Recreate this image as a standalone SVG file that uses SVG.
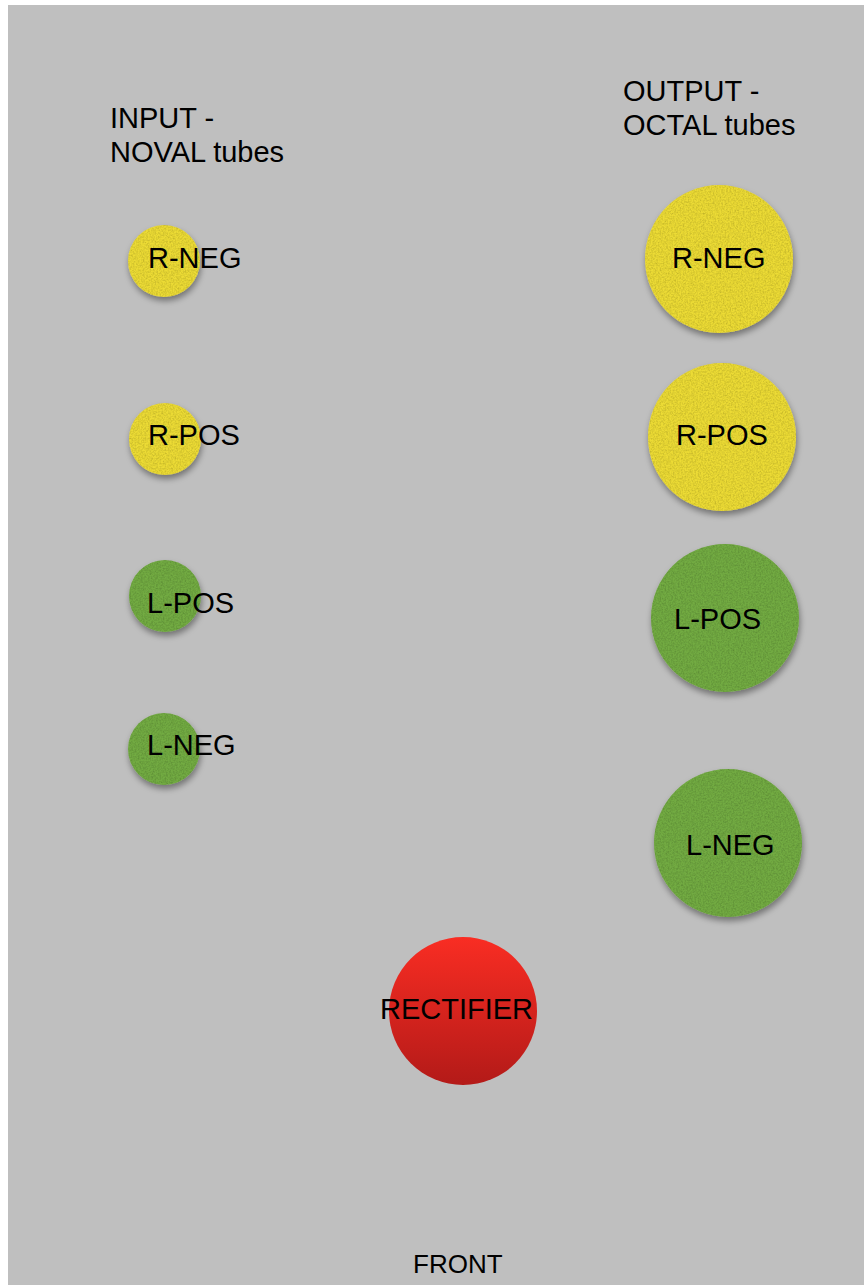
<svg xmlns="http://www.w3.org/2000/svg" width="864" height="1285" viewBox="0 0 864 1285">
<defs>
<style>
text{font-family:"Liberation Sans",Arial,Helvetica,sans-serif;font-size:29px;fill:#000}
.yel{fill:#ecdb34}
.grn{fill:#72ab42}
.small{font-size:26px}
</style>
<filter id="tex" x="-25%" y="-25%" width="150%" height="160%">
<feTurbulence type="fractalNoise" baseFrequency="0.6" numOctaves="3" seed="4" result="n"/>
<feColorMatrix in="n" type="matrix" values="0 0 0 0 0  0 0 0 0 0  0 0 0 0 0  0.6 0 0 0 -0.2" result="dark"/>
<feComposite in="dark" in2="SourceAlpha" operator="in" result="darkIn"/>
<feComposite in="darkIn" in2="SourceGraphic" operator="over" result="textured"/>
<feGaussianBlur in="SourceAlpha" stdDeviation="3"/>
<feOffset dx="1" dy="4" result="sb"/>
<feFlood flood-color="#000" flood-opacity="0.4"/>
<feComposite in2="sb" operator="in" result="shadow"/>
<feMerge><feMergeNode in="shadow"/><feMergeNode in="textured"/></feMerge>
</filter>
<linearGradient id="red" x1="0" y1="0" x2="0" y2="1">
<stop offset="0" stop-color="#f92d23"/>
<stop offset="1" stop-color="#b31a18"/>
</linearGradient>
</defs>
<rect x="0" y="0" width="864" height="1285" fill="#ffffff"/>
<rect x="8" y="5" width="856" height="1280" fill="#bfbfbf"/>
<g id="labels">
<text x="110" y="128">INPUT -</text>
<text x="110" y="162">NOVAL tubes</text>
<text x="623" y="101">OUTPUT -</text>
<text x="623" y="135">OCTAL tubes</text>
<text x="413" y="1273" class="small">FRONT</text>
</g>
<g id="connectors"/>
<g id="in-r-neg"><circle cx="164" cy="261" r="36" class="yel" filter="url(#tex)"/><text x="148" y="268">R-NEG</text></g>
<g id="in-r-pos"><circle cx="165" cy="439" r="36" class="yel" filter="url(#tex)"/><text x="148" y="445">R-POS</text></g>
<g id="in-l-pos"><circle cx="165" cy="596" r="36" class="grn" filter="url(#tex)"/><text x="147" y="613">L-POS</text></g>
<g id="in-l-neg"><circle cx="164" cy="749" r="36" class="grn" filter="url(#tex)"/><text x="147" y="755">L-NEG</text></g>
<g id="out-r-neg"><circle cx="719" cy="259" r="74" class="yel" filter="url(#tex)"/><text x="672" y="268">R-NEG</text></g>
<g id="out-r-pos"><circle cx="722" cy="437" r="74" class="yel" filter="url(#tex)"/><text x="676" y="445">R-POS</text></g>
<g id="out-l-pos"><circle cx="725" cy="618" r="74" class="grn" filter="url(#tex)"/><text x="674" y="629">L-POS</text></g>
<g id="out-l-neg"><circle cx="728" cy="843" r="74" class="grn" filter="url(#tex)"/><text x="686" y="855">L-NEG</text></g>
<g id="rectifier"><circle cx="463" cy="1011" r="74" fill="url(#red)"/><text x="380" y="1019">RECTIFIER</text></g>
</svg>
